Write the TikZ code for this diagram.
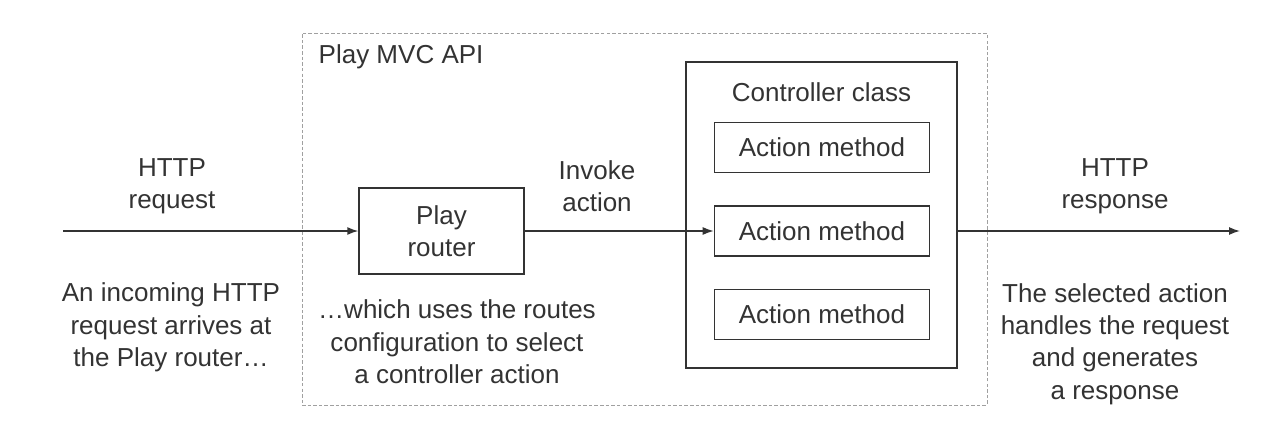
\documentclass[tikz,border=0pt]{standalone}
\usepackage{fontspec}
\setmainfont{Liberation Sans}
\usetikzlibrary{arrows.meta,positioning}

\definecolor{ink}{HTML}{333333}
\definecolor{dashgray}{HTML}{A0A0A0}

\begin{document}
\begin{tikzpicture}[>={Latex[length=2.2mm,width=1.6mm]},line width=0.8pt,
			font=\fontsize{14.8}{18.4}\selectfont,
			box/.style={draw=ink,rectangle,align=center,inner sep=0pt,text=ink},
			txt/.style={align=center,inner sep=0pt,text=ink},
			apibox/.style={draw=dashgray,dash pattern=on 2pt off 1.2pt,line width=0.5pt}]
			\useasboundingbox (0,0) rectangle (25.4,-8.68);
			\node[apibox,minimum width=13.7cm,minimum height=7.44cm] (api) at (12.89,-4.38) {};
			\node[txt,anchor=west] (apilbl) at (6.36,-1.14) {Play MVC API};
			\node[box,minimum width=3.3cm,minimum height=1.72cm] (router) at (8.83,-4.62) {Play\\router};
			\node[box,line width=0.9pt,minimum width=5.42cm,minimum height=6.12cm] (ctrl) at (16.43,-4.30) {};
			\node[txt] (ctrllbl) at (16.43,-1.84) {Controller class};
			\node[box,minimum width=4.3cm,minimum height=1cm] (act2) [right=3.78cm of router] {Action method};
			\node[box,minimum width=4.3cm,minimum height=1cm] (act1) [above=0.64cm of act2] {Action method};
			\node[box,minimum width=4.3cm,minimum height=1cm] (act3) [below=0.64cm of act2] {Action method};
			\coordinate (in) at (1.26,-4.62);
			\coordinate (out) at (24.8,-4.62);
			\node[txt] (reqlbl) at (3.44,-3.72) {HTTP\\request};
			\node[txt] (invlbl) at (11.94,-3.72) {Invoke\\action};
			\node[txt] (resplbl) at (22.30,-3.72) {HTTP\\response};
			\node[txt] (incoming) at (3.42,-6.55) {An incoming HTTP\\request arrives at\\the Play router\dots};
			\node[txt] (routes) at (9.14,-6.84) {\dots which uses the routes\\configuration to select\\a controller action};
			\node[txt] (selected) at (22.30,-6.88) {The selected action\\handles the request\\and generates\\a response};
			\draw[->,ink] (in) -- (router);
			\draw[->,ink] (router) -- (act2);
			\draw[->,ink] (ctrl.east |- out) -- (out);
		\end{tikzpicture}
\end{document}
